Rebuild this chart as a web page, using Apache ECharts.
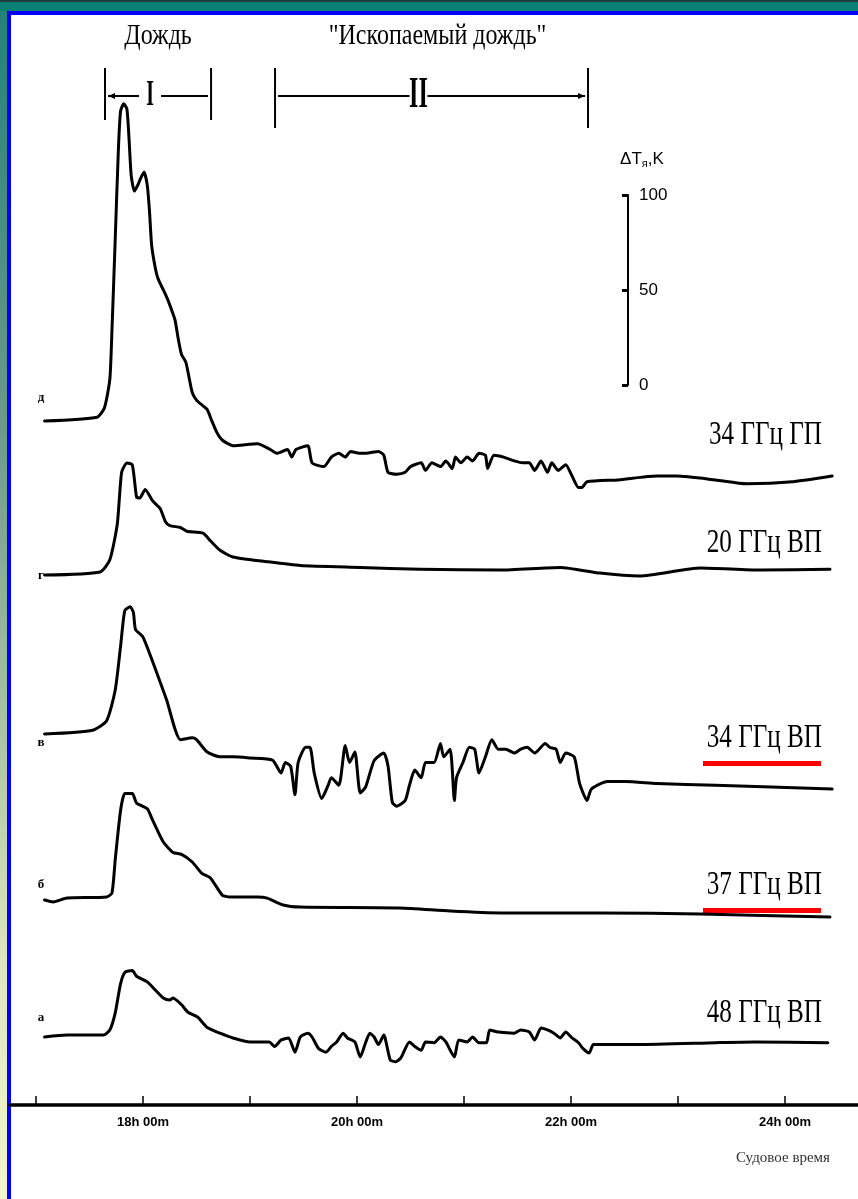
<!DOCTYPE html>
<html>
<head>
<meta charset="utf-8">
<script src="https://cdn.jsdelivr.net/npm/echarts@6/dist/echarts.min.js"></script>
<style>
  html, body { margin: 0; padding: 0; width: 858px; height: 1199px; overflow: hidden; background: #fff; }
  #frameTop { position: absolute; left: 0; top: 0; width: 858px; height: 11px;
    background: linear-gradient(#1b3f3c 0, #1b3f3c 2px, #0c8074 2px, #0c8074 100%); }
  #frameTopBlue { position: absolute; left: 7px; top: 11px; width: 851px; height: 4px; background: #0000ff; }
  #frameLeft { position: absolute; left: 0; top: 11px; width: 7px; height: 1188px;
    background: linear-gradient(#238378, #6c9a8a 35%, #a9c3a4 60%, #dde6bd 80%, #f3f5cd); }
  #frameLeftBlue { position: absolute; left: 7px; top: 11px; width: 4px; height: 1188px; background: #0000ff; }
  #chart { position: absolute; left: 0; top: 0; width: 858px; height: 1199px; }
</style>
</head>
<body>
<div id="frameTop"></div>
<div id="frameLeft"></div>
<div id="frameTopBlue"></div>
<div id="frameLeftBlue"></div>
<div id="chart"></div>
<script>
// Ship time, hours
const hourTicks = [17, 18, 19, 20, 21, 22, 23, 24];
const hourLabels = [18, 20, 22, 24];

// Radio-brightness increments ΔT (K) for each channel: [time (h), ΔT]
const trace34HP = [
  [17.08,0],[17.57,2],[17.64,7],[17.69,22],[17.71,48],[17.74,95],[17.77,143],[17.79,163],[17.82,167],
  [17.85,164],[17.87,148],[17.89,129],[17.92,121],[17.95,124],[17.98,128],[18.01,131],[18.04,124],
  [18.06,111],[18.08,93],[18.11,82],[18.14,75],[18.19,69],[18.23,64],[18.27,58],[18.30,53],[18.33,43],
  [18.36,35],[18.40,31],[18.43,23],[18.46,15],[18.50,11],[18.56,8],[18.60,6],[18.64,0.5],[18.69,-6],
  [18.74,-10],[18.84,-13],[19.07,-12],[19.19,-15],[19.25,-17],[19.35,-15],[19.39,-19],[19.43,-15],
  [19.54,-13],[19.58,-22],[19.69,-24],[19.76,-19],[19.83,-17],[19.89,-19],[19.94,-16],[20.02,-17],
  [20.08,-17],[20.20,-16],[20.25,-18],[20.29,-27],[20.37,-28],[20.45,-27],[20.50,-24],[20.60,-22],
  [20.64,-26],[20.70,-22],[20.78,-24],[20.83,-21],[20.89,-25],[20.92,-19],[20.97,-22],[21.03,-19],
  [21.08,-21],[21.14,-17],[21.20,-18],[21.22,-25],[21.28,-18],[21.37,-19],[21.47,-21],[21.55,-22],
  [21.61,-22],[21.66,-26],[21.72,-21],[21.78,-27],[21.82,-22],[21.88,-26],[21.95,-23],[22.01,-29],
  [22.07,-35],[22.10,-35],[22.15,-32],[22.44,-31],[22.80,-29],[22.99,-29],[23.35,-31],[23.64,-33],
  [24.07,-32],[24.44,-29]
];
const trace20VP = [
  [17.08,0],[17.60,1.6],[17.69,8],[17.76,27],[17.80,54],[17.85,59],[17.90,58],[17.94,41],[17.97,40.5],
  [18.02,45],[18.09,39],[18.16,35],[18.21,28],[18.25,26],[18.35,25],[18.41,23],[18.56,22],[18.63,18],
  [18.72,13],[18.84,9.5],[19.16,7],[19.47,5],[20.03,4],[20.59,3],[21.34,2.6],[21.90,4],[22.27,1],
  [22.64,-0.5],[23.21,3.7],[23.77,2.6],[24.42,3]
];
const trace34VP = [
  [17.08,0],[17.53,2],[17.66,7],[17.74,23],[17.79,46],[17.83,65],[17.88,67],[17.91,64],[17.93,55],
  [18.00,51],[18.13,32],[18.22,18],[18.35,-3],[18.46,-2],[18.50,-3],[18.60,-9.5],[18.72,-12],[18.84,-12],
  [19.00,-12.6],[19.21,-13.7],[19.29,-20.5],[19.33,-15],[19.38,-17],[19.42,-32],[19.45,-15],[19.52,-7],
  [19.56,-7],[19.60,-20.5],[19.67,-34],[19.73,-27],[19.76,-23],[19.83,-27],[19.89,-6],[19.93,-15],
  [19.98,-9.5],[20.03,-31],[20.08,-28],[20.16,-14],[20.25,-10],[20.29,-17],[20.33,-36],[20.37,-38],
  [20.45,-35],[20.49,-27],[20.54,-19],[20.60,-23],[20.64,-15],[20.72,-15],[20.78,-5],[20.81,-12],
  [20.87,-8],[20.91,-35],[20.93,-23],[20.99,-15],[21.05,-7],[21.10,-8],[21.14,-20.5],[21.20,-12],
  [21.26,-3],[21.32,-8],[21.39,-8],[21.47,-10],[21.53,-8],[21.59,-7],[21.66,-10],[21.76,-5],[21.80,-7],
  [21.86,-8],[21.90,-15],[21.95,-10],[22.03,-12],[22.08,-26],[22.15,-35],[22.19,-29],[22.34,-25],
  [22.51,-25],[22.80,-26],[23.35,-27],[24.44,-29]
];
const trace37VP = [
  [17.08,0],[17.16,-1],[17.29,1],[17.66,1.6],[17.71,3.7],[17.74,21],[17.79,47],[17.83,56],[17.90,56],
  [17.94,51],[18.04,48],[18.09,42],[18.19,30.5],[18.28,25],[18.36,24],[18.46,20],[18.55,14],[18.63,11.6],
  [18.74,2.6],[18.81,1.6],[19.07,1.6],[19.16,1],[19.31,-2.6],[19.47,-3.7],[20.40,-4.2],[20.87,-5.8],
  [21.34,-6.8],[22.27,-6.8],[23.21,-7.4],[24.42,-9]
];
const trace48VP = [
  [17.08,0],[17.29,1],[17.63,1],[17.69,3.7],[17.74,12.6],[17.79,28],[17.83,34],[17.90,35],[17.94,32],
  [18.04,29],[18.11,25],[18.19,20.5],[18.25,19.5],[18.28,20.5],[18.36,17],[18.42,13],[18.51,10.5],
  [18.60,5],[18.72,2],[18.84,-0.5],[19.00,-2.6],[19.18,-2.6],[19.23,-5],[19.29,-1.6],[19.36,-0.5],
  [19.42,-8],[19.47,0],[19.54,2],[19.58,0],[19.64,-6],[19.71,-8],[19.76,-5],[19.81,-2.6],[19.87,2],
  [19.91,-0.5],[19.98,-2.6],[20.03,-10.5],[20.08,-3],[20.12,2],[20.16,0],[20.20,-4],[20.25,1],
  [20.31,-12],[20.36,-13],[20.41,-11],[20.49,-2.6],[20.54,-5],[20.60,-7],[20.64,-2.6],[20.72,-3],
  [20.78,0],[20.83,-2.6],[20.91,-10.5],[20.95,-1.6],[21.03,-2.6],[21.08,0],[21.14,-3],[21.21,-3],
  [21.24,3.7],[21.32,2.6],[21.47,2],[21.53,3.7],[21.61,2.6],[21.66,-1.6],[21.72,4.7],[21.78,3.7],
  [21.84,2],[21.90,-0.5],[21.95,2.6],[22.01,-0.5],[22.07,-3],[22.11,-6],[22.17,-8.4],[22.21,-4],
  [22.63,-4],[23.35,-3],[23.71,-2.6],[24.40,-3]
];

const channelNames = ['34 ГГц ГП', '20 ГГц ВП', '34 ГГц ВП', '37 ГГц ВП', '48 ГГц ВП'];
const panelLetters = ['д', 'г', 'в', 'б', 'а'];
const underlined = [false, false, true, true, false];

// Rain episodes: [start (h), end (h)]
const rainIntervals = [[17.645, 18.636], [19.234, 22.159]];
const rainTitles = ['Дождь', '"Ископаемый дождь"'];
const rainNumerals = ['I', 'II'];

// Reference scale bar
const scaleTicks = [0, 50, 100];

const traces = [trace34HP, trace20VP, trace34VP, trace37VP, trace48VP];

// ---------- layout ----------
const X_MIN = 16.757, X_MAX = 24.682;
const PLOT_LEFT = 10, PLOT_WIDTH = 848;
const PX_PER_K = 1.9;
const baselines = [421, 575, 734, 900, 1037];   // pixel row of ΔT = 0 for each panel
const Y_MIN = -50, Y_MAX = 200;
const SERIF = '"Liberation Serif", "Times New Roman", serif';
const SANS = '"Liberation Sans", Arial, sans-serif';
const NARROW = '"Liberation Sans Narrow", "Liberation Sans", Arial, sans-serif';

const grids = [], xAxes = [], yAxes = [], series = [];

traces.forEach((tr, i) => {
  grids.push({ left: PLOT_LEFT, width: PLOT_WIDTH,
    top: baselines[i] - Y_MAX * PX_PER_K, height: (Y_MAX - Y_MIN) * PX_PER_K });
  xAxes.push({ gridIndex: i, type: 'value', min: X_MIN, max: X_MAX, show: false });
  yAxes.push({ gridIndex: i, type: 'value', min: Y_MIN, max: Y_MAX, show: false });
  series.push({
    type: 'line', name: channelNames[i], xAxisIndex: i, yAxisIndex: i,
    data: tr, showSymbol: false, symbol: 'none', smooth: 0.2,
    lineStyle: { color: '#000', width: 3, join: 'round', cap: 'round' },
    silent: true, z: 3
  });
});

// time axis (index 5)
grids.push({ left: PLOT_LEFT, width: PLOT_WIDTH, top: 1005, height: 100 });
xAxes.push({
  gridIndex: 5, type: 'value', min: X_MIN, max: X_MAX,
  axisLine: { show: true, onZero: false, lineStyle: { color: '#000', width: 3.5 } },
  axisTick: { show: true, inside: true, length: 9, customValues: hourTicks,
    lineStyle: { color: '#000', width: 1.5 } },
  axisLabel: { show: true, customValues: hourLabels, margin: 11,
    formatter: v => v + 'h 00m', color: '#000', fontFamily: NARROW, fontWeight: 'bold', fontSize: 13 },
  splitLine: { show: false }
});
yAxes.push({ gridIndex: 5, type: 'value', min: 0, max: 1, show: false });

// scale bar (index 6)
grids.push({ left: 628, width: 20, top: 195, height: 190 });
xAxes.push({ gridIndex: 6, type: 'value', min: 0, max: 1, show: false });
yAxes.push({
  gridIndex: 6, type: 'value', position: 'left', min: 0, max: 100, interval: 50,
  axisLine: { show: true, lineStyle: { color: '#000', width: 2 } },
  axisTick: { show: true, inside: false, length: 6, lineStyle: { color: '#000', width: 3 } },
  axisLabel: { show: true, inside: true, margin: 11, color: '#000', fontFamily: NARROW, fontSize: 17,
    customValues: scaleTicks },
  splitLine: { show: false },
  name: '{a|ΔT}{s|я}{a|,K}', nameLocation: 'end', nameGap: 26,
  nameTextStyle: { align: 'center', padding: [0, 0, 0, 28],
    rich: { a: { fontFamily: SANS, fontSize: 17, color: '#000' },
            s: { fontFamily: SANS, fontSize: 11, color: '#000', padding: [9, 0, 0, 0] } } }
});

// rain bracket annotations (index 7)
grids.push({ left: PLOT_LEFT, width: PLOT_WIDTH, top: 60, height: 72 });
xAxes.push({ gridIndex: 7, type: 'value', min: X_MIN, max: X_MAX, show: false });
yAxes.push({ gridIndex: 7, type: 'value', min: 0, max: 1, show: false });
series.push({
  type: 'custom', xAxisIndex: 7, yAxisIndex: 7, silent: true,
  data: rainIntervals.map((r, i) => [r[0], r[1], i]),
  renderItem: (params, api) => {
    const cs = params.coordSys;
    const idx = api.value(2);
    const xa = api.coord([api.value(0), 0])[0];
    const xb = api.coord([api.value(1), 0])[0];
    const ly = cs.y + 36;
    const top = cs.y + 8, bot = cs.y + (idx === 0 ? 60 : 68);
    const cx = (xa + xb) / 2;
    const lx = cx - (idx === 0 ? 8 : 13);
    const gap = idx === 0 ? 11 : 9;
    const st = { stroke: '#000', lineWidth: 2 };
    const kids = [
      { type: 'line', shape: { x1: xa, y1: top, x2: xa, y2: bot }, style: st },
      { type: 'line', shape: { x1: xb, y1: top, x2: xb, y2: bot }, style: st },
      { type: 'line', shape: { x1: xa + 3, y1: ly, x2: lx - gap, y2: ly }, style: st },
      { type: 'line', shape: { x1: lx + gap, y1: ly, x2: xb - 3, y2: ly }, style: st },
      { type: 'text', x: lx, y: ly, scaleX: 0.55,
        style: { text: rainNumerals[idx], x: 0, y: 0, align: 'center', verticalAlign: 'middle',
          font: 'bold ' + (idx === 0 ? 36 : 44) + 'px ' + SERIF, fill: '#000' } },
      { type: 'text', x: cx + (idx === 0 ? 0 : 6), y: cs.y - 24, scaleX: 0.8,
        style: { text: rainTitles[idx], x: 0, y: 0, align: 'center', verticalAlign: 'middle',
          font: '30px ' + SERIF, fill: '#000' } }
    ];
    if (idx === 0) {
      kids.push({ type: 'polygon', shape: { points: [[xa + 3, ly], [xa + 10, ly - 3], [xa + 10, ly + 3]] },
        style: { fill: '#000' } });
    } else {
      kids.push({ type: 'polygon', shape: { points: [[xb - 3, ly], [xb - 10, ly - 3], [xb - 10, ly + 3]] },
        style: { fill: '#000' } });
    }
    return { type: 'group', children: kids };
  }
});

// channel captions, panel letters, red underlines
const captionY = [435, 543, 738, 885, 1013];
const letterY = [398, 576, 743, 885, 1018];
const graphic = [];
channelNames.forEach((name, i) => {
  graphic.push({ type: 'text', x: 822, y: captionY[i], scaleX: 0.74, originX: 0,
    style: { text: name, x: 0, y: 0, align: 'right', verticalAlign: 'middle',
      font: '34px ' + SERIF, fill: '#000' } });
  graphic.push({ type: 'text', x: 41, y: letterY[i],
    style: { text: panelLetters[i], align: 'center', verticalAlign: 'middle',
      font: 'bold 13px ' + SERIF, fill: '#000' } });
  if (underlined[i]) {
    graphic.push({ type: 'rect', shape: { x: 703, y: captionY[i] + 23, width: 118, height: 5 },
      style: { fill: '#ff0000' } });
  }
});
graphic.push({ type: 'text', x: 783, y: 1158,
  style: { text: 'Судовое время', align: 'center', verticalAlign: 'middle',
    font: '15px ' + SERIF, fill: '#333' } });

const chart = echarts.init(document.getElementById('chart'), null, { renderer: 'canvas' });
chart.setOption({
  animation: false,
  backgroundColor: 'transparent',
  grid: grids,
  xAxis: xAxes,
  yAxis: yAxes,
  series: series,
  graphic: graphic
});
</script>
</body>
</html>
